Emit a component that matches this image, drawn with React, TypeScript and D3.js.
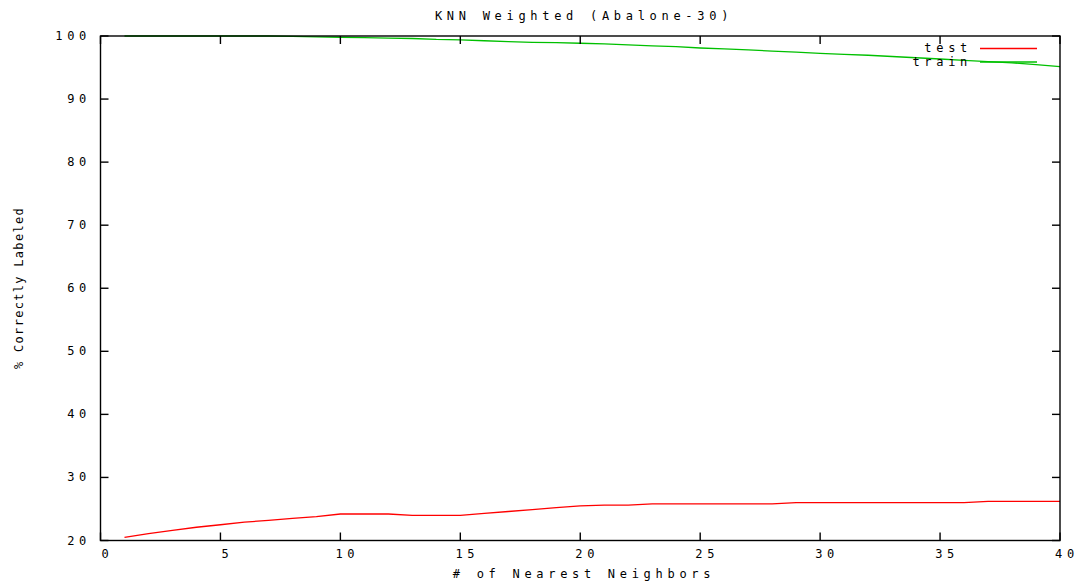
import React from 'react';
import * as d3 from 'd3';

// k = 1..40 nearest neighbours
const neighbors = d3.range(1, 41);
const testAcc = [
  20.5, 21.1, 21.6, 22.1, 22.5, 22.9, 23.2, 23.5, 23.8, 24.2,
  24.2, 24.2, 24.0, 24.0, 24.0, 24.3, 24.6, 24.9, 25.2, 25.5,
  25.6, 25.6, 25.8, 25.8, 25.8, 25.8, 25.8, 25.8, 26.0, 26.0,
  26.0, 26.0, 26.0, 26.0, 26.0, 26.0, 26.2, 26.2, 26.2, 26.2,
];
const trainAcc = [
  100, 100, 100, 100, 100, 100, 100, 99.95, 99.85, 99.8,
  99.75, 99.65, 99.6, 99.45, 99.4, 99.25, 99.1, 99.0, 98.95, 98.85,
  98.75, 98.6, 98.45, 98.3, 98.1, 97.95, 97.8, 97.6, 97.45, 97.25,
  97.1, 96.95, 96.75, 96.55, 96.35, 96.15, 95.95, 95.75, 95.45, 95.15,
];
const xTicks = [0, 5, 10, 15, 20, 25, 30, 35, 40];
const yTicks = [20, 30, 40, 50, 60, 70, 80, 90, 100];
const seriesNames = ['test', 'train'];
const seriesColors = ['#ff0000', '#00c000'];

const W = 1081, H = 581;
const m = { left: 100.5, right: 1060, top: 36, bottom: 540.5 };
const font = '"DejaVu Sans Mono", monospace';
const txt = { fontFamily: font, fontSize: 12, letterSpacing: '4.7px', fill: '#000' };
const ytxt = { ...txt, letterSpacing: '1.3px' };

export default function App() {
  const x = d3.scaleLinear().domain([0, 40]).range([m.left, m.right]);
  const y = d3.scaleLinear().domain([20, 100]).range([m.bottom, m.top]);
  const line = d3.line<number>().x((_, i) => x(neighbors[i])).y(d => y(d));
  const series = [testAcc, trainAcc];
  const tl = 8;

  return (
    <svg width={W} height={H} style={{ position: 'absolute', left: 0, top: 0, background: '#fff' }}>
      <rect width={W} height={H} fill="#fff" />
      {series.map((s, i) => (
        <path key={i} d={line(s) || ''} fill="none" stroke={seriesColors[i]} strokeWidth={1.3} />
      ))}
      {/* frame */}
      <rect x={m.left} y={m.top} width={m.right - m.left} height={m.bottom - m.top}
        fill="none" stroke="#000" strokeWidth={1.4} />
      {xTicks.map(t => (
        <g key={'x' + t}>
          <line x1={x(t)} x2={x(t)} y1={m.bottom} y2={m.bottom - tl} stroke="#000" strokeWidth={1.4} />
          <line x1={x(t)} x2={x(t)} y1={m.top} y2={m.top + tl} stroke="#000" strokeWidth={1.4} />
          <text x={x(t) + 7} y={558} textAnchor="middle" style={txt}>{t}</text>
        </g>
      ))}
      {yTicks.map(t => (
        <g key={'y' + t}>
          <line x1={m.left} x2={m.left + tl} y1={y(t)} y2={y(t)} stroke="#000" strokeWidth={1.4} />
          <line x1={m.right} x2={m.right - tl} y1={y(t)} y2={y(t)} stroke="#000" strokeWidth={1.4} />
          <text x={91} y={y(t) + 4} textAnchor="end" style={txt}>{t}</text>
        </g>
      ))}
      <text x={584} y={20} textAnchor="middle" style={txt}>KNN Weighted (Abalone-30)</text>
      <text x={584} y={578} textAnchor="middle" style={txt}>
        # of Nearest Neighbors
      </text>
      <text transform={`translate(23,${288}) rotate(-90)`} textAnchor="middle" style={ytxt}>
        % Correctly Labeled
      </text>
      {/* legend */}
      {seriesNames.map((n, i) => (
        <g key={n}>
          <text x={972} y={52 + i * 13.5} textAnchor="end" style={txt}>{n}</text>
          <line x1={980} x2={1037} y1={48.5 + i * 13.5} y2={48.5 + i * 13.5}
            stroke={seriesColors[i]} strokeWidth={1.3} />
        </g>
      ))}
    </svg>
  );
}
